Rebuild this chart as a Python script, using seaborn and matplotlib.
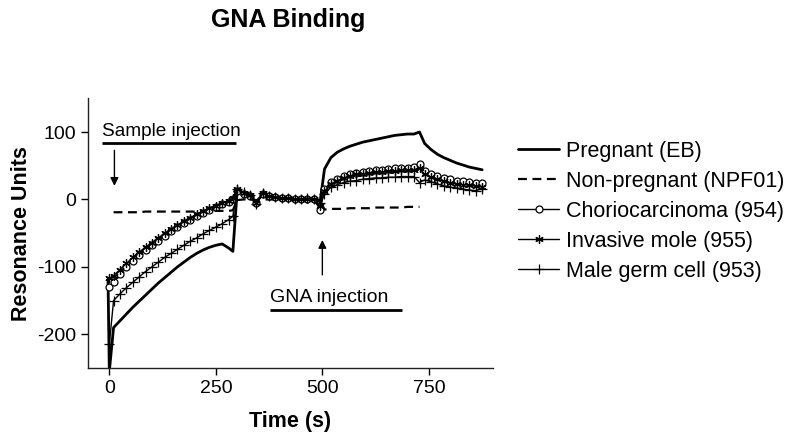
import matplotlib
matplotlib.use("Agg")
import matplotlib.pyplot as plt
import seaborn as sns
import numpy as np
import pandas as pd

# ---- data ----
time_s = [-3, 0, 10, 25, 40, 55, 70, 85, 100, 115, 130, 145, 160, 175, 190, 205, 220,
          235, 250, 265, 280, 290, 300, 315, 330, 345, 360, 375, 390, 405, 420, 435,
          450, 465, 480, 495, 505, 520, 535, 550, 565, 580, 595, 610, 625, 640, 655,
          670, 685, 700, 715, 728, 740, 755, 770, 785, 800, 815, 830, 845, 860, 875]

pregnant = [-118, -255, -190, -180, -170, -160, -151, -142, -133, -124, -116, -108, -100,
            -93, -86, -80, -75, -71, -68, -66, -72, -77, 12, 8, 4, -3, 7, 4, 2, 1, 2,
            1, 0, 1, 0, -2, 45, 62, 70, 75, 79, 82, 85, 87, 89, 91, 93, 95, 96, 97,
            97, 100, 83, 74, 67, 62, 58, 54, 51, 48, 46, 44]

non_pregnant = [np.nan, np.nan, -19, -19, -19, -19, -19, -18, -18, -18, -18, -18, -18, -18,
                -18, -18, -18, -17, -17, -17, -17, -16, -1, 0, 0, -1, 0, 0, 0, 0, 0,
                0, 0, 0, 0, -2, -15, -14, -14, -14, -13, -13, -13, -13, -12, -12, -12,
                -12, -12, -11, -11, -11, np.nan, np.nan, np.nan, np.nan, np.nan,
                np.nan, np.nan, np.nan, np.nan, np.nan]

choriocarcinoma = [np.nan, -130, -122, -110, -100, -91, -83, -75, -68, -61, -54, -47, -41,
                   -35, -30, -25, -20, -15, -11, -7, -4, 0, 12, 8, 5, -6, 8, 5, 3, 2,
                   2, 1, 1, 1, 1, -16, 15, 26, 31, 35, 37, 39, 41, 42, 43, 44, 45, 46,
                   47, 47, 48, 53, 42, 38, 35, 32, 30, 28, 27, 26, 25, 24]

invasive_mole = [np.nan, -117, -113, -104, -95, -86, -78, -71, -64, -57, -50, -44, -38, -32,
                 -27, -22, -17, -13, -9, -5, -2, 2, 15, 10, 6, -5, 9, 5, 3, 2, 2, 1,
                 1, 1, 1, -10, 12, 23, 28, 32, 35, 37, 38, 39, 40, 41, 42, 42, 43, 43,
                 44, 47, 37, 33, 30, 27, 25, 23, 22, 21, 20, 19]

male_germ_cell = [np.nan, -215, -150, -140, -131, -123, -115, -107, -100, -93, -86, -80, -74,
                  -68, -62, -57, -51, -46, -41, -36, -30, -25, 16, 11, 6, -7, 9, 5, 3,
                  2, 2, 1, 1, 2, 1, -5, 8, 18, 22, 25, 27, 28, 30, 31, 32, 32, 33, 33,
                  34, 34, 34, 25, 29, 26, 23, 20, 18, 17, 15, 14, 13, 16]

series_names = ["Pregnant (EB)", "Non-pregnant (NPF01)", "Choriocarcinoma (954)",
                "Invasive mole (955)", "Male germ cell (953)"]
series_values = [pregnant, non_pregnant, choriocarcinoma, invasive_mole, male_germ_cell]

x_ticks = [0, 250, 500, 750]
y_ticks = [-200, -100, 0, 100]

# ---- styling ----
sns.set_style("ticks")
plt.rcParams["font.family"] = ["Liberation Sans", "DejaVu Sans"]
plt.rcParams["axes.unicode_minus"] = False
plt.rcParams["text.color"] = "black"
plt.rcParams["axes.labelcolor"] = "black"
plt.rcParams["xtick.color"] = "black"
plt.rcParams["ytick.color"] = "black"

styles = {
    "Pregnant (EB)": dict(color="black", lw=2.0, ls="-", marker=None),
    "Non-pregnant (NPF01)": dict(color="black", lw=1.6, ls=(0, (4, 2.5)), marker=None),
    "Choriocarcinoma (954)": dict(color="black", lw=1.0, ls="-", marker="o", ms=5,
                                  mfc="white", mec="black", mew=0.9),
    "Invasive mole (955)": dict(color="black", lw=1.0, ls="-", marker=(6, 2, 0), ms=6,
                                mec="black", mew=0.9),
    "Male germ cell (953)": dict(color="black", lw=1.0, ls="-", marker="+", ms=7,
                                 mec="black", mew=0.9),
}

fig = plt.figure(figsize=(8, 4.4), dpi=100)
ax = fig.add_axes([0.11, 0.1636, 0.506, 0.613])

frames = []
for name, vals in zip(series_names, series_values):
    frames.append(pd.DataFrame({"Time": time_s, "RU": vals, "Series": name}))
df = pd.concat(frames, ignore_index=True)

handles = []
for name in series_names:
    st = dict(styles[name])
    ls = st.pop("ls")
    sub = df[df["Series"] == name].dropna()
    sns.lineplot(data=sub, x="Time", y="RU", ax=ax, sort=False, estimator=None,
                 linestyle=ls, label=name, legend=False, **st)
    handles.append(ax.lines[-1])

ax.set_xlim(-50, 900)
ax.set_ylim(-250, 150)
ax.set_xticks(x_ticks)
ax.set_yticks(y_ticks)
ax.tick_params(axis="both", labelsize=14, length=5, width=1, direction="out", color="black")
for s in ["left", "bottom"]:
    ax.spines[s].set_linewidth(1.0)
    ax.spines[s].set_color("#222222")
sns.despine(ax=ax)

ax.set_xlabel("Time (s)", fontsize=15.5, fontweight="bold", labelpad=10)
ax.set_ylabel("Resonance Units", fontsize=15.5, fontweight="bold", labelpad=4)

fig.text(0.36, 0.955, "GNA Binding", fontsize=18, fontweight="bold",
         ha="center", va="center")

# annotations
ax.text(-16, 88, "Sample injection", fontsize=13.7, ha="left", va="bottom")
ax.plot([-16, 298], [83, 83], color="black", lw=2, solid_capstyle="butt")
ax.annotate("", xy=(12, 16), xytext=(12, 77),
            arrowprops=dict(arrowstyle="-|>", color="black", lw=1, mutation_scale=12))

ax.text(378, -158, "GNA injection", fontsize=14, ha="left", va="bottom")
ax.plot([376, 687], [-164, -164], color="black", lw=2, solid_capstyle="butt")
ax.annotate("", xy=(500, -56), xytext=(500, -116),
            arrowprops=dict(arrowstyle="-|>", color="black", lw=1, mutation_scale=12))

fig.legend(handles=handles, labels=series_names, loc="upper left",
           bbox_to_anchor=(0.6235, 0.724), frameon=False, fontsize=15.5,
           handlelength=1.9, handletextpad=0.3, labelspacing=0.42)

fig.savefig("out.png", dpi=100)
